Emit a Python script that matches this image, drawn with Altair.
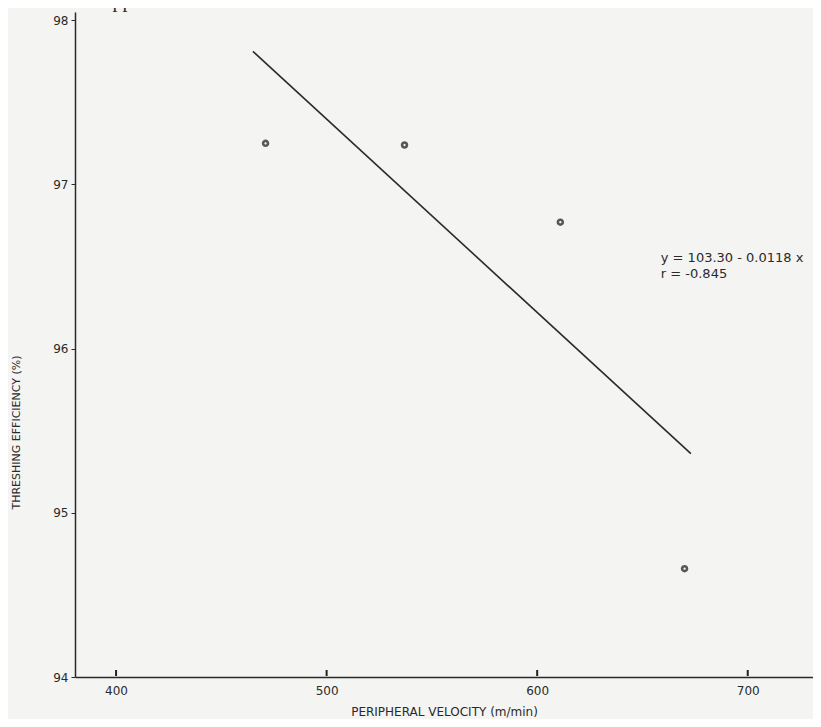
import altair as alt
import pandas as pd

# observed data points
velocity = [471, 537, 611, 670]
efficiency = [97.25, 97.24, 96.77, 94.66]

# regression line end points (y = 103.30 - 0.0118 x)
line_x = [465, 673]
line_y = [97.81, 95.36]

x_ticks = [400, 500, 600, 700]
y_ticks = [94, 95, 96, 97, 98]

eq_lines = ["y = 103.30 -  0.0118 x", "r = -0.845"]

W, H = 738, 665
XDOM = [380.5, 731]
YDOM = [94, 98.05]
FONT = "DejaVu Sans"
INK = "#2a2a2a"

pts = pd.DataFrame({"v": velocity, "e": efficiency})
ln = pd.DataFrame({"v": line_x, "e": line_y})
xt = pd.DataFrame({"tv": x_ticks})
ann = pd.DataFrame({"v": [658.7], "e": [96.55], "t": [eq_lines]})

xs = alt.Scale(domain=XDOM, nice=False, zero=False)
ys = alt.Scale(domain=YDOM, nice=False, zero=False)

xaxis = alt.Axis(values=x_ticks, tickSize=0, domainColor=INK, domainWidth=1.5,
                 labelFont=FONT, labelFontSize=12, labelColor=INK, labelPadding=8,
                 grid=False, title="PERIPHERAL  VELOCITY  (m/min)",
                 titleFont=FONT, titleFontSize=12, titleFontWeight="normal",
                 titleColor=INK, titlePadding=10)
yaxis = alt.Axis(values=y_ticks, format="d", tickSize=4, tickColor=INK,
                 domainColor=INK, domainWidth=1.5, labelFont=FONT,
                 labelFontSize=12, labelColor=INK, labelPadding=3, grid=False,
                 title="THRESHING  EFFICIENCY  (%)", titleFont=FONT,
                 titleFontSize=11, titleFontWeight="normal", titleColor=INK,
                 titleX=-54, titleY=420)

line = alt.Chart(ln).mark_line(color=INK, strokeWidth=1.6).encode(
    x=alt.X("v:Q", scale=xs, axis=xaxis),
    y=alt.Y("e:Q", scale=ys, axis=yaxis),
)

points = alt.Chart(pts).mark_point(filled=False, color="#151515", size=24,
                                   strokeWidth=2.6).encode(
    x=alt.X("v:Q", scale=xs), y=alt.Y("e:Q", scale=ys))

ticks = alt.Chart(xt).mark_rule(color="#222222", strokeWidth=2).encode(
    x=alt.X("tv:Q", scale=xs), y=alt.value(H - 7), y2=alt.value(H - 1))

text = alt.Chart(ann).mark_text(align="left", baseline="middle", font=FONT,
                                fontSize=13, color=INK, lineHeight=16).encode(
    x=alt.X("v:Q", scale=xs), y=alt.Y("e:Q", scale=ys), text="t")

header = alt.Chart(pd.DataFrame({"t": ["stripper."]})).mark_text(
    align="left", baseline="bottom", font="Liberation Serif", fontSize=20,
    color=INK).encode(x=alt.value(12), y=alt.value(-1), text="t")

chart = alt.layer(line, points, text, header, ticks).properties(
    width=W, height=H,
    autosize=alt.AutoSizeParams(type="none"),
    padding={"left": 67, "top": 4, "right": 0, "bottom": 42},
    background="#f4f4f2",
).configure_view(stroke=None)

chart.save("out.html", embed_options={"renderer": "svg", "actions": False})
